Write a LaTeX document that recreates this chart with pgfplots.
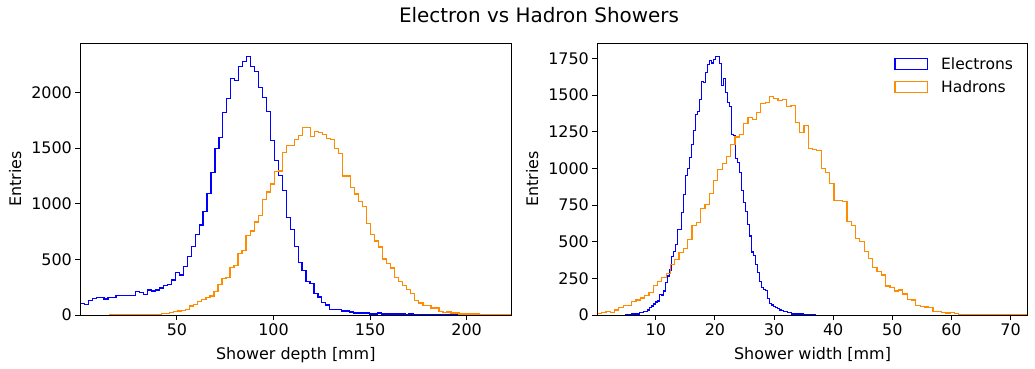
\documentclass[border=0pt]{standalone}
\usepackage{fontspec}
\setmainfont{DejaVu Sans}
\usepackage{pgfplots}
\usepackage{pgfplotstable}
\pgfplotsset{compat=1.18}
\definecolor{eblue}{RGB}{0,0,255}
\definecolor{horange}{RGB}{255,140,0}

% Shower depth, electrons: 100 bins of 2.05 mm from 0 mm (leading/trailing 0 close the step outline)
\pgfplotstableread[row sep=\\]{
y\\0\\
105\\96\\132\\150\\159\\159\\144\\159\\159\\177\\
177\\177\\177\\177\\213\\200\\186\\225\\216\\225\\
243\\267\\276\\315\\384\\360\\438\\528\\618\\725\\
809\\932\\1094\\1283\\1493\\1598\\1817\\1948\\2128\\2110\\
2236\\2275\\2326\\2236\\2191\\2047\\1957\\1826\\1571\\1391\\
1256\\1121\\878\\770\\618\\474\\399\\303\\282\\192\\
162\\111\\90\\51\\51\\51\\36\\36\\27\\18\\
18\\18\\18\\9\\9\\18\\9\\9\\9\\9\\
9\\9\\0\\9\\3\\2\\1\\0\\0\\0\\
0\\0\\0\\5\\0\\0\\0\\0\\0\\1\\
0\\
}\eldepth

% Shower depth, hadrons: 100 bins of 2.08 mm from 15.1 mm
\pgfplotstableread[row sep=\\]{
y\\0\\
1\\0\\1\\2\\4\\2\\2\\4\\3\\5\\
5\\6\\8\\15\\15\\20\\30\\36\\42\\50\\
80\\95\\120\\140\\155\\170\\213\\276\\330\\339\\
429\\447\\555\\582\\716\\755\\836\\896\\1040\\1106\\
1178\\1289\\1295\\1463\\1520\\1526\\1580\\1610\\1682\\1682\\
1601\\1652\\1643\\1625\\1589\\1577\\1499\\1454\\1250\\1250\\
1148\\1088\\1022\\977\\824\\725\\665\\612\\504\\465\\
423\\339\\303\\267\\231\\192\\132\\108\\87\\87\\
63\\63\\30\\21\\27\\18\\18\\9\\9\\9\\
9\\9\\2\\6\\6\\0\\1\\0\\0\\1\\
0\\
}\hadepth

% Shower width, electrons: 95 bins of 0.3386 mm from 4.81 mm
\pgfplotstableread[row sep=\\]{
y\\0\\
5\\0\\2\\7\\7\\7\\7\\16\\16\\23\\
23\\34\\50\\61\\75\\89\\95\\141\\136\\164\\
223\\266\\307\\400\\432\\480\\586\\586\\700\\823\\
952\\998\\1073\\1161\\1261\\1368\\1389\\1473\\1593\\1589\\
1655\\1711\\1739\\1720\\1743\\1766\\1766\\1716\\1568\\1614\\
1518\\1448\\1425\\1232\\1225\\1070\\1041\\973\\850\\768\\
707\\620\\539\\430\\407\\345\\291\\227\\186\\175\\
166\\114\\80\\68\\57\\50\\43\\34\\30\\23\\
23\\16\\16\\7\\7\\7\\7\\7\\7\\0\\
0\\0\\0\\5\\1\\
0\\
}\elwidth

% Shower width, hadrons: 100 bins of 0.728 mm from 0.1 mm
\pgfplotstableread[row sep=\\]{
y\\0\\
11\\18\\23\\16\\34\\52\\66\\66\\93\\102\\
116\\134\\155\\202\\230\\257\\284\\345\\380\\427\\
455\\516\\611\\630\\725\\755\\830\\918\\993\\1034\\
1082\\1164\\1214\\1232\\1307\\1345\\1336\\1384\\1445\\1452\\
1489\\1480\\1466\\1470\\1423\\1430\\1311\\1248\\1293\\1136\\
1127\\1120\\1002\\973\\898\\782\\782\\773\\636\\611\\
520\\502\\434\\384\\323\\298\\273\\198\\189\\164\\
170\\143\\107\\102\\64\\57\\55\\50\\25\\23\\
16\\14\\18\\9\\5\\5\\5\\0\\0\\0\\
0\\0\\0\\0\\0\\0\\0\\0\\0\\1\\
0\\
}\hawidth

\pgfplotsset{
  histaxis/.style={
    scale only axis,
    height=271.7bp,
    axis on top,
    tick align=outside,
    tick pos=left,
    major tick length=4.9bp,
    every tick/.style={black, line width=1.0bp},
    axis line style={black, line width=1.0bp},
    /pgf/number format/assume math mode=true,
    /pgf/number format/set thousands separator={},
    scaled ticks=false,
    xticklabel={\fontsize{16}{19}\selectfont\pgfmathprintnumber{\tick}},
    yticklabel={\fontsize{16}{19}\selectfont\pgfmathprintnumber{\tick}},
    ymin=0,
    xlabel style={font=\fontsize{16}{19}\selectfont, at={(rel axis cs:0.5,0)}, anchor=center, yshift=-39.9bp},
    ylabel style={font=\fontsize{16}{19}\selectfont, anchor=center},
    ylabel={Entries},
  },
  histline/.style={const plot, line width=1.2bp, line join=miter},
}

\begin{document}
\begin{tikzpicture}
\path[use as bounding box] (0bp,0bp) rectangle (1035bp,369bp);
\node[font=\fontsize{20}{24}\selectfont] at (539bp,353.9bp) {Electron vs Hadron Showers};

\begin{axis}[histaxis,
  at={(80.3bp,54bp)}, anchor=south west, width=431bp,
  xmin=0, xmax=223.1, ymax=2442,
  xtick={50,100,150,200}, ytick={0,500,1000,1500,2000},
  xlabel={Shower depth [mm]},
  ylabel style={at={(rel axis cs:-0.151,0.5)}},
]
\addplot[histline, eblue] table[x expr={0+max(\coordindex-1,0)*2.05}, y=y] {\eldepth};
\addplot[histline, horange] table[x expr={15.1+max(\coordindex-1,0)*2.08}, y=y] {\hadepth};
\end{axis}

\begin{axis}[histaxis,
  at={(597.3bp,54bp)}, anchor=south west, width=430.4bp,
  xmin=0.1, xmax=72.9, ymax=1854,
  xtick={10,20,30,40,50,60,70}, ytick={0,250,500,750,1000,1250,1500,1750},
  xlabel={Shower width [mm]},
  ylabel style={at={(rel axis cs:-0.1513,0.5)}},
]
\addplot[histline, eblue] table[x expr={4.81+max(\coordindex-1,0)*0.3386}, y=y] {\elwidth};
\addplot[histline, horange] table[x expr={0.1+max(\coordindex-1,0)*0.728}, y=y] {\hawidth};
\draw[eblue, line width=1.2bp] (rel axis cs:0.6917,0.9043) rectangle (rel axis cs:0.7677,0.9448);
\draw[horange, line width=1.2bp] (rel axis cs:0.6917,0.8197) rectangle (rel axis cs:0.7677,0.8587);
\node[anchor=base west, inner sep=0pt, font=\fontsize{15.6}{18}\selectfont] at (rel axis cs:0.7984,0.9028) {Electrons};
\node[anchor=base west, inner sep=0pt, font=\fontsize{15.6}{18}\selectfont] at (rel axis cs:0.7984,0.8207) {Hadrons};
\end{axis}
\end{tikzpicture}
\end{document}
